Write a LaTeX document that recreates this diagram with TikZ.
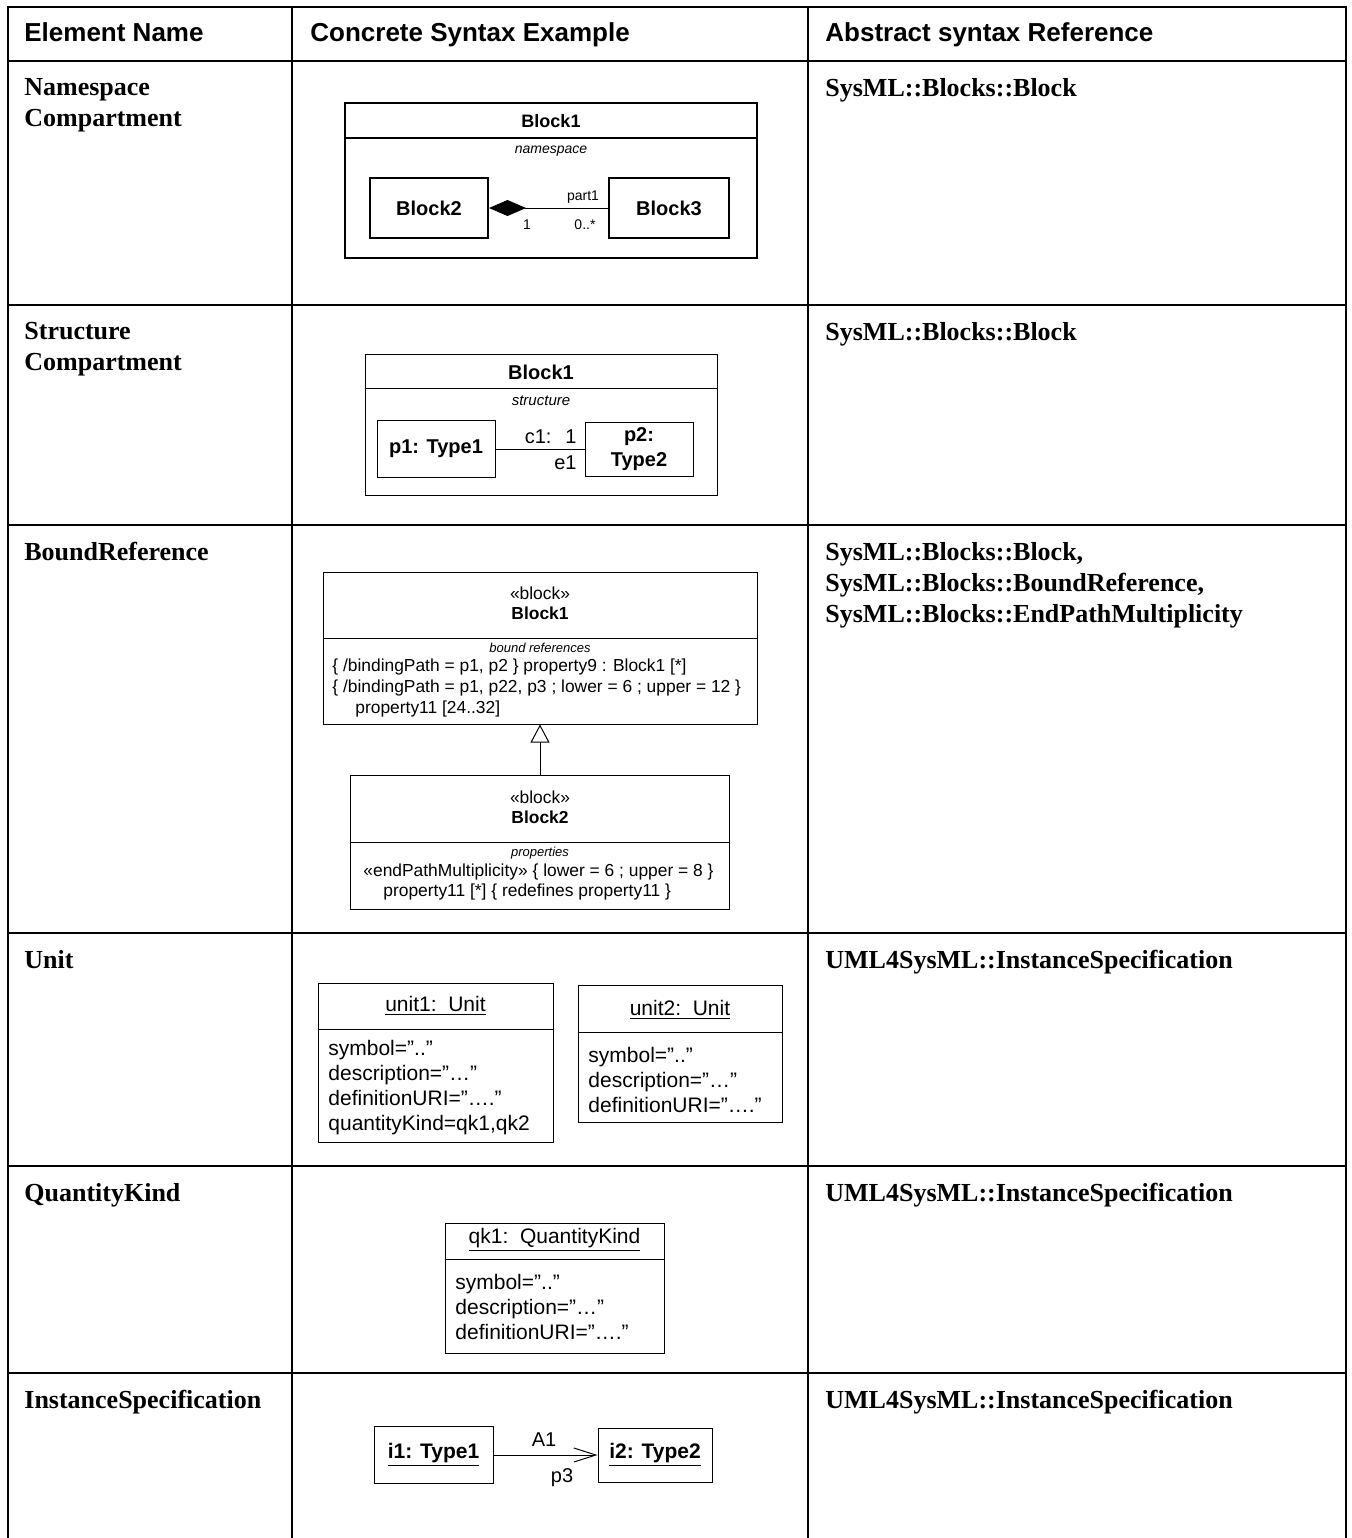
\documentclass[tikz,border=0pt]{standalone}
\usepackage{fontspec}
\setmainfont{Liberation Serif}
\setsansfont{Liberation Sans}
\usetikzlibrary{arrows.meta}
\tikzset{
  grid/.style={line width=1pt},
  hdr/.style={font=\fontsize{13}{15}\selectfont\sffamily\bfseries, anchor=base west, inner sep=0pt},
  elem/.style={font=\fontsize{13}{15.5}\selectfont\bfseries, anchor=north west, align=left, inner sep=0pt},
  sf/.style 2 args={font=\fontsize{#1}{#2}\selectfont\sffamily},
  sfb/.style 2 args={font=\fontsize{#1}{#2}\selectfont\sffamily\bfseries},
  sfi/.style 2 args={font=\fontsize{#1}{#2}\selectfont\sffamily\itshape},
  sz/.style 2 args={minimum width=#1*0.5pt, minimum height=#2*0.5pt},
  box/.style={draw, line width=0.5pt, inner sep=0pt, align=center},
  bbox/.style={box, line width=1pt},
  lbl/.style={inner sep=0pt, align=center},
  attrs/.style={inner sep=0pt, align=left, anchor=west},
  link/.style={line width=0.5pt}
}
\begin{document}
\begin{tikzpicture}[x=0.5pt, y=-0.5pt]
    \useasboundingbox (0,0) rectangle (1351,1538);
    % Table lines
    \draw[grid] (7.5,1538) -- (7.5,7) -- (1346,7) -- (1346,1538);
    \foreach \x in {292,808} {
      \draw[grid] (\x,7) -- (\x,1538);
    }
    \foreach \y in {61,305,525,933,1166,1373} {
      \draw[grid] (7.5,\y) -- (1346,\y);
    }
    % Header
    \node[hdr] (h1) at (24,41) {Element Name};
    \node[hdr] (h2) at (310,41) {Concrete Syntax Example};
    \node[hdr] (h3) at (825,41) {Abstract syntax Reference};
    % Element names and abstract syntax references (top of first line)
    \foreach \y/\nm/\rf [count=\i] in {
        78/{Namespace\\Compartment}/{SysML::Blocks::Block},
        322/{Structure\\Compartment}/{SysML::Blocks::Block},
        542/{BoundReference}/{SysML::Blocks::Block,\\SysML::Blocks::BoundReference,\\SysML::Blocks::EndPathMultiplicity},
        950/{Unit}/{UML4SysML::InstanceSpecification},
        1183/{QuantityKind}/{UML4SysML::InstanceSpecification},
        1390/{InstanceSpecification}/{UML4SysML::InstanceSpecification}} {
      \node[elem] (el\i) at (24,\y) {\nm};
      \node[elem] (rf\i) at (825,\y) {\rf};
    }

    % Namespace compartment
    \node[bbox, sz={412}{155}] (nsb1) at (551,180.5) {};
    \draw[line width=1pt] (nsb1.west |- 0,138) -- (nsb1.east |- 0,138);
    \node[lbl, sfb={9}{11}] (nst) at (551,121) {Block1};
    \node[lbl, sfi={7}{8}] (nsn) at (551,151) {namespace};
    \node[bbox, sz={118}{60}, sfb={10}{12}] (nsb2) at (429,208) {Block2};
    \node[bbox, sz={120}{60}, sfb={10}{12}] (nsb3) at (669,208) {Block3};
    \draw[link, {Diamond[length=18.5pt, width=8pt]}-] (nsb2) -- (nsb3);
    \node[lbl, sf={7}{8}] (nsp) at (583,197) {part1};
    \node[lbl, sf={7}{8}] (nsm1) at (527,225) {1};
    \node[lbl, sf={7}{8}] (nsm2) at (585,225) {0..*};

    % Structure compartment
    \node[box, sz={352}{141}] (stb1) at (541,424.5) {};
    \draw[link] (stb1.west |- 0,388) -- (stb1.east |- 0,388);
    \node[lbl, sfb={10}{12}] (stt) at (541,372) {Block1};
    \node[lbl, sfi={7.5}{9}] (sts) at (541,401) {structure};
    \node[box, sz={118}{57}, sfb={10}{12}] (stp1) at (436,449) {p1: Type1};
    \node[box, sz={108}{54}, sfb={10}{12.5}] (stp2) at (639,449) {p2:\\Type2};
    \draw[link] (stp1) -- (stp2);
    \node[lbl, sf={10}{12}, anchor=east] (stc) at (577,437) {c1:\hspace{7pt}1};
    \node[lbl, sf={10}{12}, anchor=east] (ste) at (577,463) {e1};

    % Bound reference
    \node[box, sz={434}{152}] (brb1) at (540,648) {};
    \draw[link] (brb1.west |- 0,638) -- (brb1.east |- 0,638);
    \node[lbl, sf={8.7}{10}] (brs1) at (540,603) {«block»\\\textbf{Block1}};
    \node[lbl, sfi={6.5}{8}] (brc1) at (540,648) {bound references};
    \node[attrs, sf={8.7}{10.3}] (bra1) at (332,688) {\{ /bindingPath = p1, p2 \} property9 : Block1 [*]\\\{ /bindingPath = p1, p22, p3 ; lower = 6 ; upper = 12 \}\\\hspace{11.5pt}property11 [24..32]};
    \node[box, sz={379}{134}] (brb2) at (540,842) {};
    \draw[link] (brb2.west) -- (brb2.east);
    \node[lbl, sf={8.7}{10}] (brs2) at (540,807) {«block»\\\textbf{Block2}};
    \node[lbl, sfi={6.5}{8}] (brc2) at (540,853) {properties};
    \node[attrs, sf={8.7}{10.3}] (bra2) at (363,882) {«endPathMultiplicity» \{ lower = 6 ; upper = 8 \}\\\hspace{10pt}property11 [*] \{ redefines property11 \}};
    \draw[link, -{Triangle[open, length=9pt, width=9.5pt]}] (brb2) -- (brb1);

    % Units
    \node[box, sz={235}{159}] (un1) at (435.5,1062.5) {};
    \draw[link] (un1.west |- 0,1029) -- (un1.east |- 0,1029);
    \node[lbl, sf={10.5}{12.5}] (un1t) at (435.5,1006) {\underline{unit1:\ \ Unit}};
    \node[attrs, sf={10.5}{12.5}] (un1a) at (328,1088) {symbol=”..”\\description=”…”\\definitionURI=”….”\\quantityKind=qk1,qk2};
    \node[box, sz={204}{137}] (un2) at (680,1053.5) {};
    \draw[link] (un2.west |- 0,1032) -- (un2.east |- 0,1032);
    \node[lbl, sf={10.5}{12.5}] (un2t) at (680,1010) {\underline{unit2:\ \ Unit}};
    \node[attrs, sf={10.5}{12.5}] (un2a) at (588,1080) {symbol=”..”\\description=”…”\\definitionURI=”….”};

    % Quantity kind
    \node[box, sz={219}{130}] (qk) at (554.5,1288) {};
    \draw[link] (qk.west |- 0,1259) -- (qk.east |- 0,1259);
    \node[lbl, sf={10.5}{12.5}] (qkt) at (554.5,1240) {\underline{qk1:\ \ QuantityKind}};
    \node[attrs, sf={10.5}{12.5}] (qka) at (455,1307) {symbol=”..”\\description=”…”\\definitionURI=”….”};

    % Instance specification
    \node[box, sz={119}{57}, sfb={10.5}{12}] (in1) at (433.5,1455) {\underline{i1: Type1}};
    \node[box, sz={114}{54}, sfb={10.5}{12}] (in2) at (655,1455) {\underline{i2: Type2}};
    \draw[link, -{Straight Barb[length=11pt, width=7pt]}] (in1) -- (in2);
    \node[lbl, sf={10}{12}] (ina) at (544,1440) {A1};
    \node[lbl, sf={10}{12}] (inp) at (562,1478) {p3};
  \end{tikzpicture}
\end{document}
